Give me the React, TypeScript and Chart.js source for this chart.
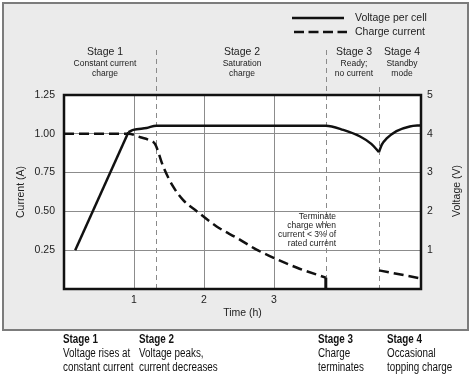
import React, { useEffect, useRef } from "react";
import { Chart, registerables } from "chart.js";

Chart.register(...registerables);

// ---- data ----
const xTicks = [1, 2, 3];
const currentTicks = [0.25, 0.5, 0.75, 1.0, 1.25];
const voltageTicks = [1, 2, 3, 4, 5];

const voltageRiseHours = [0.16, 0.92];
const voltageRiseVolts = [1.0, 4.04];
const voltageHoldHours = [0.92, 0.99, 1.18, 1.32, 3.74, 3.99, 4.23, 4.39, 4.5];
const voltageHoldVolts = [4.04, 4.1, 4.15, 4.21, 4.21, 4.1, 3.93, 3.74, 3.53];
const voltageTopHours = [4.5, 4.54, 4.61, 4.75, 4.94, 5.1];
const voltageTopVolts = [3.53, 3.72, 3.88, 4.07, 4.19, 4.22];

const currentChargeHours = [0, 0.92, 1.09, 1.23, 1.3, 1.42, 1.56, 1.7, 1.9, 2.18, 2.47, 2.75, 3.0, 3.33, 3.74];
const currentChargeAmps = [1.0, 1.0, 0.978, 0.957, 0.935, 0.786, 0.659, 0.574, 0.5, 0.403, 0.329, 0.254, 0.2, 0.137, 0.073];
const currentToppingHours = [4.5, 5.1];
const currentToppingAmps = [0.12, 0.068];
const terminateHours = [3.74, 3.74];
const terminateAmps = [0, 0.073];

const stageBoundaries = [1.31, 3.74, 4.5];
const stageTitles = ["Stage 1", "Stage 2", "Stage 3", "Stage 4"];
const stageSubtitles = [
  ["Constant current", "charge"],
  ["Saturation", "charge"],
  ["Ready;", "no current"],
  ["Standby", "mode"],
];
const stageNotes = [
  ["Voltage rises at", "constant current"],
  ["Voltage peaks,", "current decreases"],
  ["Charge", "terminates"],
  ["Occasional", "topping charge"],
];
const terminateNote = ["Terminate", "charge when", "current < 3% of", "rated current"];
const legendLabels = ["Voltage per cell", "Charge current"];

const pts = (xs: number[], ys: number[]) => xs.map((x, i) => ({ x, y: ys[i] }));

const SANS = '"Liberation Sans", Arial, sans-serif';
const TEXT = "#222";

const decor = {
  id: "decor",
  beforeDraw(chart: any) {
    const { ctx, chartArea: a } = chart;
    ctx.save();
    ctx.fillStyle = "#fff";
    ctx.fillRect(0, 0, chart.width, chart.height);
    ctx.fillStyle = "#ebebeb";
    ctx.fillRect(3, 3, 465, 327);
    ctx.strokeStyle = "#7c7c7c";
    ctx.lineWidth = 2;
    ctx.strokeRect(3, 3, 465, 327);
    ctx.fillStyle = "#fff";
    ctx.fillRect(a.left, a.top, a.right - a.left, a.bottom - a.top);
    ctx.restore();
  },
  beforeDatasetsDraw(chart: any) {
    const { ctx, chartArea: a, scales } = chart;
    const tops = [50, 50, 87];
    ctx.save();
    ctx.strokeStyle = "#8a8a8a";
    ctx.lineWidth = 1;
    ctx.setLineDash([5, 4]);
    stageBoundaries.forEach((h, i) => {
      const x = Math.round(scales.x.getPixelForValue(h)) + 0.5;
      ctx.beginPath();
      ctx.moveTo(x, tops[i]);
      ctx.lineTo(x, a.bottom);
      ctx.stroke();
    });
    ctx.setLineDash([]);
    ctx.strokeStyle = "#111";
    ctx.lineWidth = 2.5;
    ctx.strokeRect(a.left, a.top, a.right - a.left, a.bottom - a.top);
    ctx.restore();
  },
  afterDraw(chart: any) {
    const { ctx, scales } = chart;
    ctx.save();
    // legend
    ctx.strokeStyle = "#111";
    ctx.lineWidth = 2.5;
    ctx.beginPath();
    ctx.moveTo(292, 18);
    ctx.lineTo(344, 18);
    ctx.stroke();
    ctx.setLineDash([10, 4.5]);
    ctx.beginPath();
    ctx.moveTo(294, 32);
    ctx.lineTo(347, 32);
    ctx.stroke();
    ctx.setLineDash([]);
    ctx.fillStyle = TEXT;
    ctx.font = `10.5px ${SANS}`;
    ctx.textAlign = "left";
    ctx.textBaseline = "middle";
    ctx.fillText(legendLabels[0], 355, 18);
    ctx.fillText(legendLabels[1], 355, 32);

    // stage headings
    const centers = [105, 242, 354, 402];
    ctx.textAlign = "center";
    stageTitles.forEach((t, i) => {
      ctx.font = `10.5px ${SANS}`;
      ctx.fillText(t, centers[i], 52);
      ctx.font = `8.5px ${SANS}`;
      stageSubtitles[i].forEach((s, j) => ctx.fillText(s, centers[i], 64 + j * 10));
    });

    // terminate note
    ctx.font = `8.5px ${SANS}`;
    ctx.textAlign = "right";
    terminateNote.forEach((s, j) => ctx.fillText(s, 336, 217 + j * 8.8));

    // right axis title
    ctx.save();
    ctx.translate(457, (scales.y1.top + scales.y1.bottom) / 2 - 1);
    ctx.rotate(-Math.PI / 2);
    ctx.textAlign = "center";
    ctx.font = `10.5px ${SANS}`;
    ctx.fillText("Voltage (V)", 0, 0);
    ctx.restore();

    // bottom notes (narrow font)
    ctx.font = `12px monospace`;
    const w0 = ctx.measureText("Voltage rises at").width;
    ctx.font = `12px "Liberation Sans Narrow", monospace`;
    const w1 = ctx.measureText("Voltage rises at").width;
    const hasNarrow = Math.abs(w0 - w1) > 0.5;
    const lefts = [63, 139, 318, 387];
    ctx.textAlign = "left";
    ctx.fillStyle = "#111";
    const drawNarrow = (s: string, x: number, y: number, bold: boolean) => {
      if (hasNarrow) {
        ctx.font = `${bold ? "bold " : ""}12px "Liberation Sans Narrow"`;
        ctx.fillText(s, x, y);
      } else {
        ctx.save();
        ctx.translate(x, y);
        ctx.scale(0.82, 1);
        ctx.font = `${bold ? "bold " : ""}12px ${SANS}`;
        ctx.fillText(s, 0, 0);
        ctx.restore();
      }
    };
    stageTitles.forEach((t, i) => {
      drawNarrow(t, lefts[i], 340, true);
      stageNotes[i].forEach((s, j) => drawNarrow(s, lefts[i], 354 + j * 14, false));
    });
    ctx.restore();
  },
};

export default function App() {
  const ref = useRef<HTMLCanvasElement | null>(null);
  useEffect(() => {
    document.body.style.margin = "0";
    const canvas = ref.current;
    if (!canvas) return;
    const tickFont = { family: SANS, size: 10.5 };
    const grid = { color: "#8c8c8c", lineWidth: 1, drawTicks: false };
    const solid = { borderColor: "#111", borderWidth: 2.5, pointRadius: 0, fill: false, borderJoinStyle: "round" as const };
    const dashed = { ...solid, borderDash: [10, 5] };
    const chart = new Chart(canvas, {
      type: "line",
      data: {
        datasets: [
          { ...solid, data: pts(voltageRiseHours, voltageRiseVolts), yAxisID: "y1", tension: 0 },
          { ...solid, data: pts(voltageHoldHours, voltageHoldVolts), yAxisID: "y1", cubicInterpolationMode: "monotone" },
          { ...solid, data: pts(voltageTopHours, voltageTopVolts), yAxisID: "y1", cubicInterpolationMode: "monotone" },
          { ...dashed, data: pts(currentChargeHours, currentChargeAmps), yAxisID: "y", cubicInterpolationMode: "monotone" },
          { ...dashed, data: pts(currentToppingHours, currentToppingAmps), yAxisID: "y", tension: 0 },
          { ...solid, borderWidth: 3, borderCapStyle: "butt", data: pts(terminateHours, terminateAmps), yAxisID: "y", tension: 0 },
        ] as any,
      },
      options: {
        animation: false,
        responsive: false,
        devicePixelRatio: 1,
        events: [],
        layout: { padding: { top: 95, bottom: 59, left: 0, right: 0 } },
        plugins: { legend: { display: false }, tooltip: { enabled: false } },
        scales: {
          x: {
            type: "linear",
            min: 0,
            max: 5.1,
            afterFit: (s: any) => { s.height = 30; },
            afterBuildTicks: (s: any) => { s.ticks = xTicks.map((v) => ({ value: v })); },
            grid,
            border: { display: false },
            ticks: { padding: 5, font: tickFont, color: TEXT, callback: (v: any) => String(v) },
            title: { display: true, text: "Time (h)", font: { family: SANS, size: 10.5 }, color: TEXT, padding: { top: 0, bottom: 0 } },
          },
          y: {
            type: "linear",
            position: "left",
            min: 0,
            max: 1.25,
            afterFit: (s: any) => { s.width = 64; },
            afterBuildTicks: (s: any) => { s.ticks = currentTicks.map((v) => ({ value: v })); },
            grid,
            border: { display: false },
            ticks: { padding: 9, font: tickFont, color: TEXT, callback: (v: any) => Number(v).toFixed(2) },
            title: { display: true, text: "Current (A)", font: { family: SANS, size: 10.5 }, color: TEXT, padding: { top: 15, bottom: 0 } },
          },
          y1: {
            type: "linear",
            position: "right",
            min: 0,
            max: 5,
            afterFit: (s: any) => { s.width = 53; },
            afterBuildTicks: (s: any) => { s.ticks = voltageTicks.map((v) => ({ value: v })); },
            grid: { display: false, drawTicks: false },
            border: { display: false },
            ticks: { padding: 6, font: tickFont, color: TEXT, callback: (v: any) => String(v) },
          },
        },
      } as any,
      plugins: [decor],
    });
    return () => chart.destroy();
  }, []);
  return <canvas ref={ref} width={474} height={378} style={{ display: "block", width: 474, height: 378 }} />;
}
